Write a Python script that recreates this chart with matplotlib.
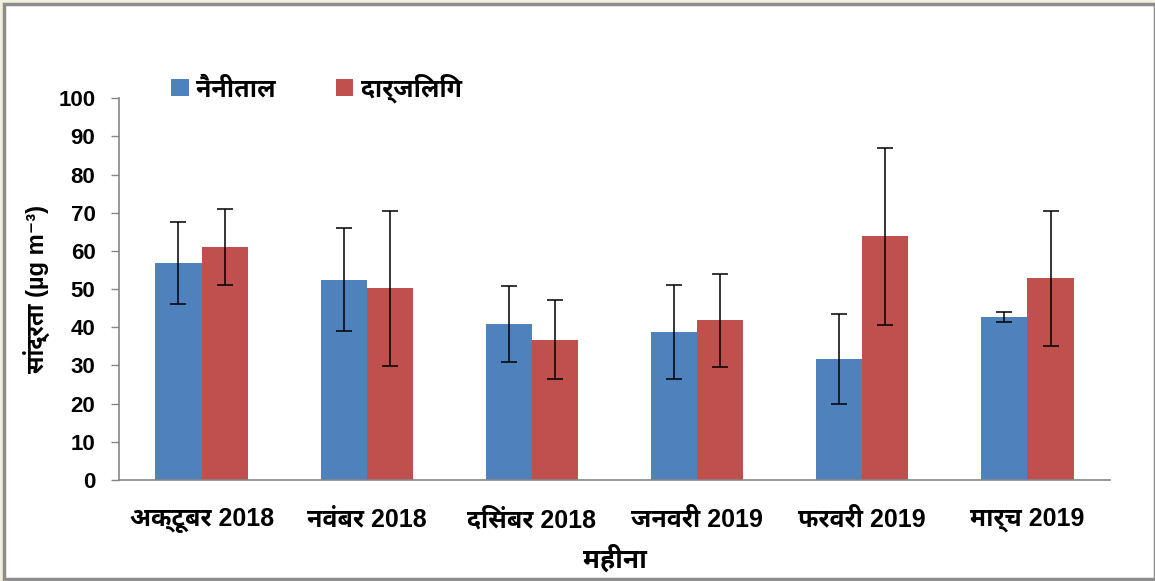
import numpy as np
import matplotlib
matplotlib.use("Agg")
import matplotlib.pyplot as plt
from matplotlib.patches import Rectangle

plt.rcParams['font.family'] = ['Liberation Sans', 'Noto Sans Devanagari UI', 'DejaVu Sans']
plt.rcParams['font.weight'] = 'bold'

# =========================================================
# Data
# =========================================================
months = ["अक्टूबर 2018", "नवंबर 2018", "दिसंबर 2018",
          "जनवरी 2019", "फरवरी 2019", "मार्च 2019"]
nainital = [56.8, 52.5, 40.8, 38.8, 31.7, 42.7]
nainital_err = [10.7, 13.5, 9.9, 12.4, 11.8, 1.4]
darjeeling = [61.0, 50.2, 36.8, 41.8, 63.9, 52.8]
darjeeling_err = [10.0, 20.3, 10.4, 12.1, 23.2, 17.6]
yticks = [0, 10, 20, 30, 40, 50, 60, 70, 80, 90, 100]

# =========================================================
# Figure + frame
# =========================================================
fig = plt.figure(figsize=(11.55, 5.81), dpi=100)
fig.patch.set_facecolor('#f2f0da')
frame = Rectangle((4 / 1155, 0.003), 1 - 4 / 1155, 1 - 0.003 - 4 / 581,
                  transform=fig.transFigure, facecolor='white',
                  edgecolor='#8c8c8c', linewidth=2.5, zorder=-5)
fig.patches.append(frame)

ax = fig.add_axes([119 / 1155, 1 - 480 / 581, (1110 - 119) / 1155, (480 - 98.3) / 581])
ax.set_facecolor('none')
ax.set_zorder(2)

x = np.arange(len(months))
w = 0.28
err_kw = dict(ecolor='black', elinewidth=1.1, capsize=6, capthick=1.1)
ax.bar(x - w / 2, nainital, w, yerr=nainital_err, color='#4f81bd',
       label='नैनीताल', error_kw=err_kw)
ax.bar(x + w / 2, darjeeling, w, yerr=darjeeling_err, color='#c0504d',
       label='दार्जिलिंग', error_kw=err_kw)

ax.set_xlim(-0.5, len(months) - 0.5)
ax.set_ylim(0, 100)
ax.set_yticks(yticks)
ax.set_xticks(x)
ax.set_xticklabels(months, fontsize=18, fontweight='bold')
ax.tick_params(axis='x', length=0, pad=20)
ax.tick_params(axis='y', length=6, width=1, color='#868686', labelsize=16, pad=11)
for lab in ax.get_yticklabels():
    lab.set_fontweight('bold')

for s in ['top', 'right']:
    ax.spines[s].set_visible(False)
for s in ['left', 'bottom']:
    ax.spines[s].set_color('#868686')
    ax.spines[s].set_linewidth(1.2)

ax.set_xlabel('महीना', fontsize=19, fontweight='bold', labelpad=8)
ax.set_ylabel('सांद्रता (µg m⁻³)', fontsize=17, fontweight='bold', labelpad=6)

leg = ax.legend(loc='upper left', bbox_to_anchor=(0.03, 1.125), ncol=2, frameon=False,
                handlelength=0.7, handleheight=0.7, handletextpad=0.3,
                columnspacing=2.4, prop={'weight': 'bold', 'size': 18})

fig.savefig("out.png", dpi=100, facecolor=fig.get_facecolor())
